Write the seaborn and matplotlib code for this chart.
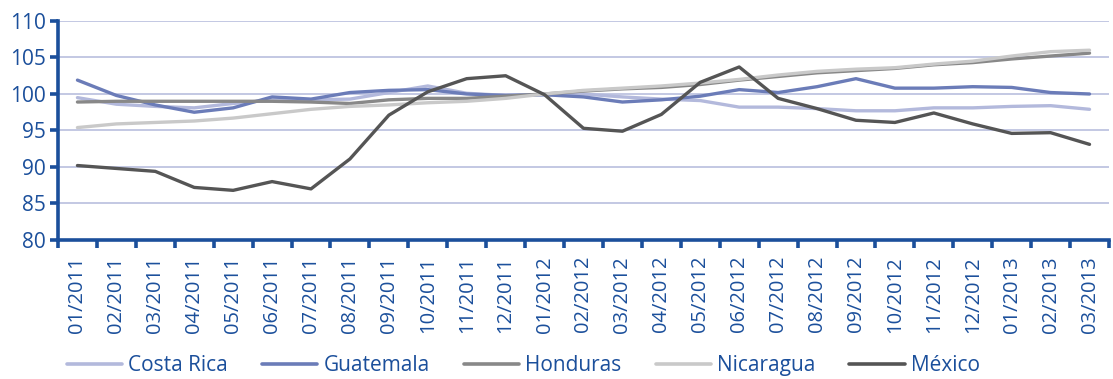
import matplotlib
matplotlib.use("Agg")
import matplotlib.pyplot as plt
from matplotlib.lines import Line2D
from matplotlib.ticker import FixedLocator
import numpy as np
import pandas as pd
import seaborn as sns

months = ["01/2011", "02/2011", "03/2011", "04/2011", "05/2011", "06/2011",
          "07/2011", "08/2011", "09/2011", "10/2011", "11/2011", "12/2011",
          "01/2012", "02/2012", "03/2012", "04/2012", "05/2012", "06/2012",
          "07/2012", "08/2012", "09/2012", "10/2012", "11/2012", "12/2012",
          "01/2013", "02/2013", "03/2013"]

costa_rica = [99.5, 98.6, 98.3, 98.1, 98.7, 99.2, 99.2, 99.3, 100.2, 101.1,
              100.1, 99.8, 99.9, 100.0, 99.6, 99.3, 99.1, 98.2, 98.2, 98.0,
              97.7, 97.7, 98.1, 98.1, 98.3, 98.4, 97.9]
guatemala = [101.9, 99.8, 98.5, 97.5, 98.1, 99.6, 99.3, 100.2, 100.5, 100.6,
             100.0, 99.8, 99.9, 99.6, 98.9, 99.2, 99.7, 100.6, 100.2, 101.0,
             102.1, 100.8, 100.8, 101.0, 100.9, 100.2, 100.0]
honduras = [98.9, 99.0, 99.0, 99.0, 99.0, 99.0, 98.9, 98.7, 99.2, 99.4,
            99.4, 99.7, 100.0, 100.4, 100.7, 100.9, 101.3, 101.9, 102.4, 102.9,
            103.2, 103.5, 104.0, 104.3, 104.8, 105.2, 105.6]
nicaragua = [95.4, 95.9, 96.1, 96.3, 96.7, 97.3, 97.9, 98.3, 98.5, 98.8,
             99.0, 99.4, 100.0, 100.5, 100.8, 101.1, 101.5, 102.0, 102.6, 103.1,
             103.4, 103.6, 104.1, 104.5, 105.2, 105.8, 106.0]
mexico = [90.2, 89.8, 89.4, 87.2, 86.8, 88.0, 87.0, 91.1, 97.1, 100.3,
          102.1, 102.5, 99.9, 95.3, 94.9, 97.2, 101.6, 103.7, 99.4, 98.0,
          96.4, 96.1, 97.4, 95.9, 94.6, 94.7, 93.1]

countries = ["Costa Rica", "Guatemala", "Honduras", "Nicaragua", "México"]
series = [costa_rica, guatemala, honduras, nicaragua, mexico]
colors = ["#b3b9dc", "#6b7cb8", "#888888", "#c9c9c9", "#555555"]

BLUE = "#1b4f9b"

df = pd.DataFrame({
    "x": np.tile(np.arange(len(months)), len(countries)),
    "valor": np.concatenate(series),
    "pais": np.repeat(countries, len(months)),
})

sns.set_theme(style="white")
plt.rcParams["font.family"] = ["Open Sans", "DejaVu Sans"]

fig = plt.figure(figsize=(11.13, 3.79), dpi=100)
ax = fig.add_axes([0.0521, 0.3668, 0.9443, 0.5778])

for yv in range(80, 111, 5):
    ax.axhline(yv, color="#c3c8e3", lw=1.4, zorder=0)

sns.lineplot(data=df, x="x", y="valor", hue="pais", hue_order=countries,
             palette=colors, linewidth=2.4, legend=False, ax=ax, zorder=3)

ax.set_xlim(-0.5, len(months) - 0.5)
ax.set_ylim(80, 110)
ax.set_yticks(range(80, 111, 5))
ax.set_xticks(np.arange(len(months)))
ax.set_xticklabels(months, rotation=90)
ax.xaxis.set_minor_locator(FixedLocator(np.arange(len(months) + 1) - 0.5))
ax.set_xlabel("")
ax.set_ylabel("")

for side in ["top", "right"]:
    ax.spines[side].set_visible(False)
for side in ["left", "bottom"]:
    ax.spines[side].set_color(BLUE)
    ax.spines[side].set_linewidth(2.6)

ax.tick_params(axis="x", which="major", length=0, pad=11.5, labelsize=14.5,
               labelcolor=BLUE)
ax.tick_params(axis="x", which="minor", direction="out", length=6, width=2.6,
               color=BLUE, bottom=True)
ax.tick_params(axis="y", which="major", direction="out", length=6, width=2.6,
               color=BLUE, left=True, pad=3, labelsize=15, labelcolor=BLUE)

handles = [Line2D([0], [0], color=c, lw=2.6) for c in colors]
fig.legend(handles, countries, loc="center left", bbox_to_anchor=(0.0602, 0.036),
           ncol=5, frameon=False, fontsize=15, handlelength=2.65,
           handletextpad=0.3, columnspacing=1.63, borderpad=0,
           borderaxespad=0, labelcolor=BLUE)

fig.savefig("out.png", dpi=100)
